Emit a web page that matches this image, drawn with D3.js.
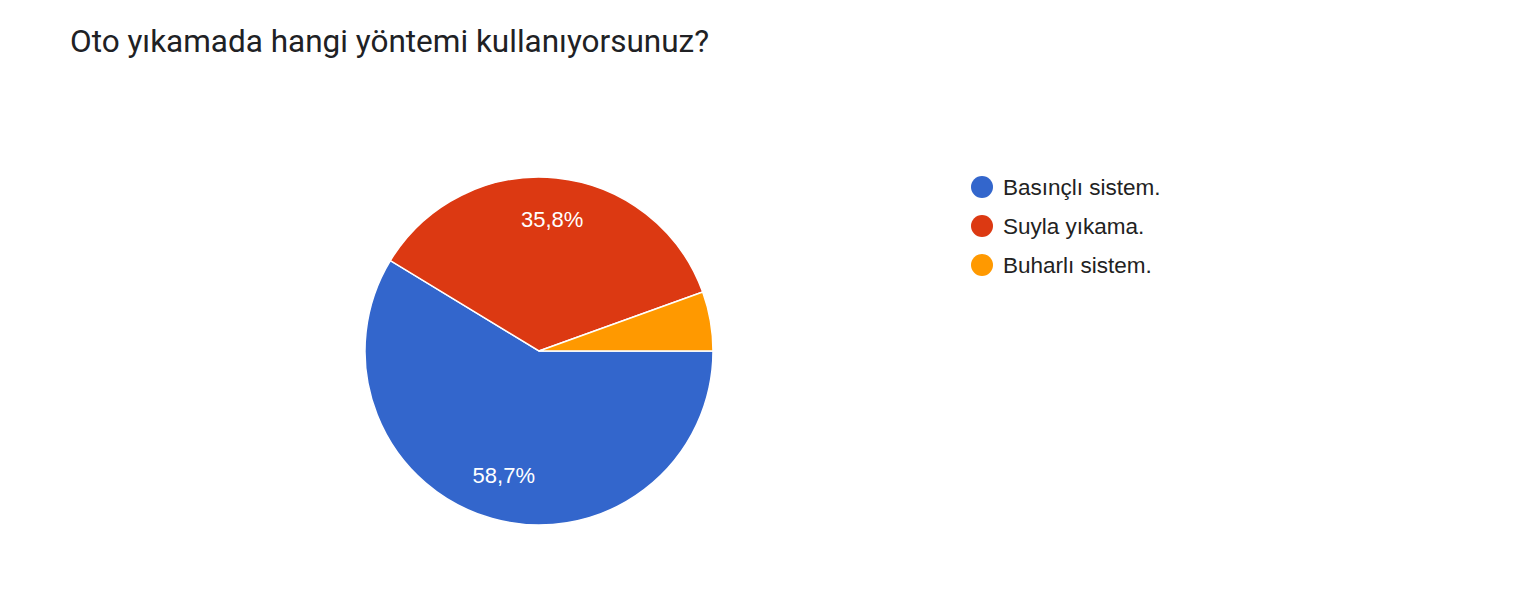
<!DOCTYPE html>
<meta charset="utf-8">
<style>
body {
  margin: 0;
  background: #fff;
}
.title {
  font-family: Roboto, sans-serif;
  font-size: 31.5px;
  fill: #202124;
}
.legend text {
  font-family: "Liberation Sans", Arial, sans-serif;
  font-size: 22.5px;
  fill: #222;
}
.label {
  font-family: "Liberation Sans", Arial, sans-serif;
  font-size: 22px;
  fill: #fff;
}
</style>
<body>
<script src="https://d3js.org/d3.v7.min.js"></script>
<script>

var categories = ["Basınçlı sistem.", "Suyla yıkama.", "Buharlı sistem."];
var values = [58.7, 35.8, 5.5];
var labels = ["58,7%", "35,8%", ""];
var colors = ["#3366cc", "#dc3912", "#ff9900"];

var width = 1520,
    height = 600,
    radius = 174;

var svg = d3.select("body").append("svg")
    .attr("width", width)
    .attr("height", height);

svg.append("text")
    .attr("class", "title")
    .attr("x", 70)
    .attr("y", 52)
    .text("Oto yıkamada hangi yöntemi kullanıyorsunuz?");

var pie = d3.pie()
    .sort(null)
    .startAngle(Math.PI / 2)
    .endAngle(Math.PI / 2 + 2 * Math.PI);

var arc = d3.arc()
    .innerRadius(0)
    .outerRadius(radius);

var labelArc = d3.arc()
    .innerRadius(radius * 0.75)
    .outerRadius(radius * 0.75);

var color = d3.scaleOrdinal()
    .domain(categories)
    .range(colors);

var g = svg.append("g")
    .attr("transform", "translate(539,351)");

var arcs = pie(values);

g.selectAll(".slice")
    .data(arcs)
  .enter().append("path")
    .attr("class", "slice")
    .attr("d", arc)
    .attr("fill", function(d, i) { return color(categories[i]); })
    .attr("stroke", "#fff")
    .attr("stroke-width", 1.5);

g.selectAll(".label")
    .data(arcs)
  .enter().append("text")
    .attr("class", "label")
    .attr("text-anchor", "middle")
    .attr("dy", "0.28em")
    .attr("transform", function(d) { return "translate(" + labelArc.centroid(d) + ")"; })
    .text(function(d, i) { return labels[i]; });

var legendY = d3.scalePoint()
    .domain(categories)
    .range([187, 265]);

var legend = svg.append("g")
    .attr("class", "legend")
  .selectAll("g")
    .data(categories)
  .enter().append("g")
    .attr("transform", function(d) { return "translate(982," + legendY(d) + ")"; });

legend.append("circle")
    .attr("r", 11)
    .attr("fill", function(d) { return color(d); });

legend.append("text")
    .attr("x", 21)
    .attr("dy", "0.36em")
    .text(function(d) { return d; });

</script>
